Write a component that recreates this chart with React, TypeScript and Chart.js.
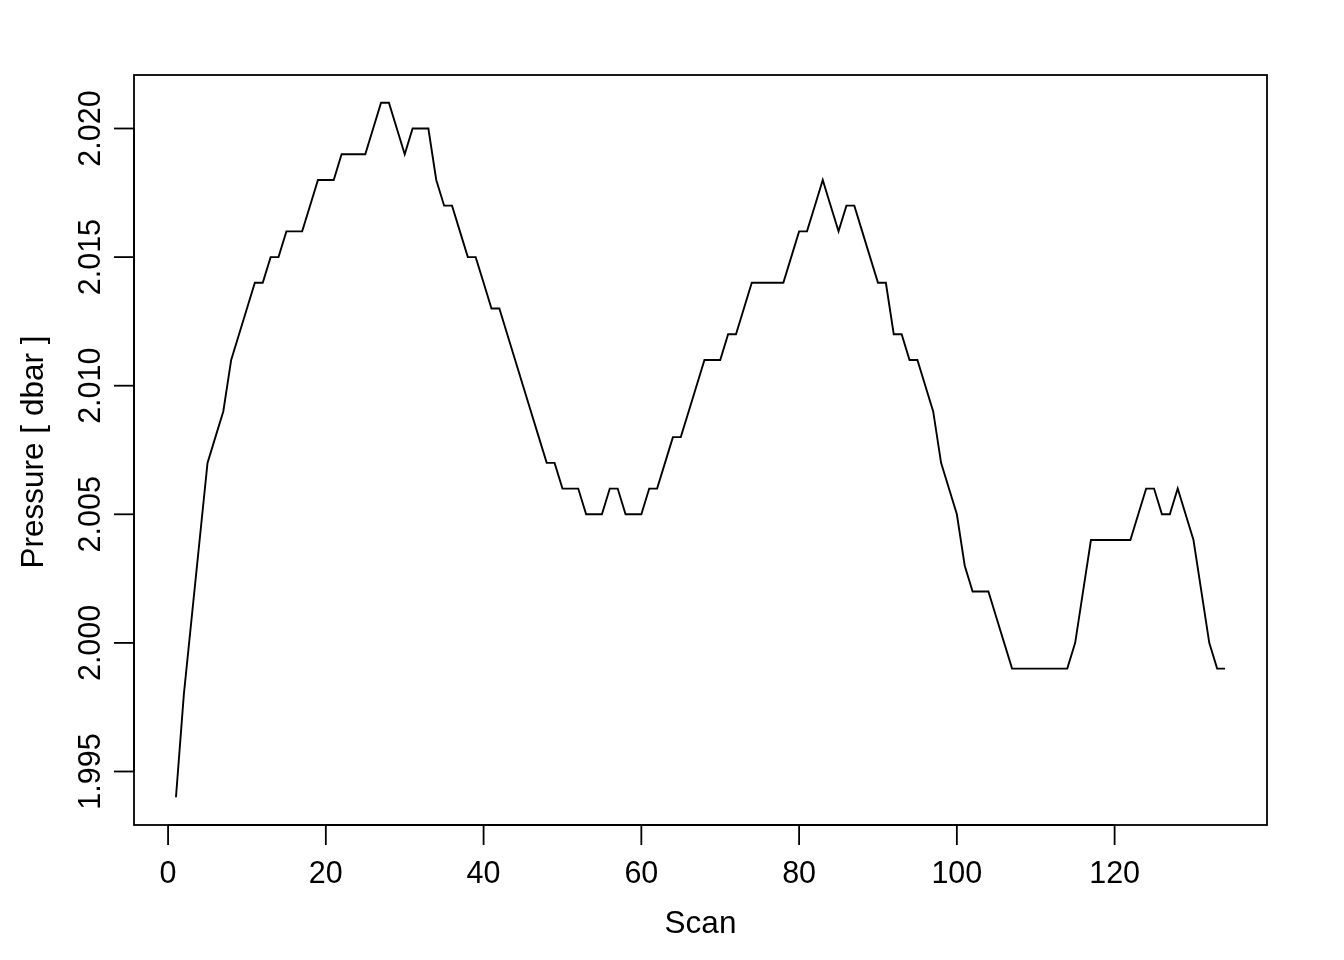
import React, { useEffect, useRef } from "react";
import { Chart, registerables } from "chart.js";

Chart.register(...registerables);

const PRESSURE: number[] = [
  1.994, 1.998, 2.001, 2.004, 2.007, 2.008, 2.009, 2.011, 2.012, 2.013,
  2.014, 2.014, 2.015, 2.015, 2.016, 2.016, 2.016, 2.017, 2.018, 2.018,
  2.018, 2.019, 2.019, 2.019, 2.019, 2.020, 2.021, 2.021, 2.020, 2.019,
  2.020, 2.020, 2.020, 2.018, 2.017, 2.017, 2.016, 2.015, 2.015, 2.014,
  2.013, 2.013, 2.012, 2.011, 2.010, 2.009, 2.008, 2.007, 2.007, 2.006,
  2.006, 2.006, 2.005, 2.005, 2.005, 2.006, 2.006, 2.005, 2.005, 2.005,
  2.006, 2.006, 2.007, 2.008, 2.008, 2.009, 2.010, 2.011, 2.011, 2.011,
  2.012, 2.012, 2.013, 2.014, 2.014, 2.014, 2.014, 2.014, 2.015, 2.016,
  2.016, 2.017, 2.018, 2.017, 2.016, 2.017, 2.017, 2.016, 2.015, 2.014,
  2.014, 2.012, 2.012, 2.011, 2.011, 2.010, 2.009, 2.007, 2.006, 2.005,
  2.003, 2.002, 2.002, 2.002, 2.001, 2.000, 1.999, 1.999, 1.999, 1.999,
  1.999, 1.999, 1.999, 1.999, 2.000, 2.002, 2.004, 2.004, 2.004, 2.004,
  2.004, 2.004, 2.005, 2.006, 2.006, 2.005, 2.005, 2.006, 2.005, 2.004,
  2.002, 2.000, 1.999, 1.999,
];
const SCANS: number[] = PRESSURE.map((_, i) => i + 1);

const X_TICKS: number[] = [0, 20, 40, 60, 80, 100, 120];
const Y_TICKS: number[] = [1.995, 2.0, 2.005, 2.01, 2.015, 2.02];
const Y_TICK_LABELS: string[] = ["1.995", "2.000", "2.005", "2.010", "2.015", "2.020"];
const X_LABEL = "Scan";
const Y_LABEL = "Pressure [ dbar ]";

const FONT = "30.5px 'Liberation Sans', Arial, sans-serif";
const TITLE_FONT = "31.5px 'Liberation Sans', Arial, sans-serif";

const rAxesPlugin = {
  id: "rAxes",
  afterDraw(chart: any) {
    const ctx: CanvasRenderingContext2D = chart.ctx;
    const area = chart.chartArea;
    const xs = chart.scales.x;
    const ys = chart.scales.y;
    ctx.save();
    ctx.strokeStyle = "#000";
    ctx.fillStyle = "#000";
    ctx.lineWidth = 1.8;
    // box
    ctx.strokeRect(area.left, area.top, area.right - area.left, area.bottom - area.top);
    ctx.font = FONT;
    // x axis
    const x0 = xs.getPixelForValue(X_TICKS[0]);
    const x1 = xs.getPixelForValue(X_TICKS[X_TICKS.length - 1]);
    ctx.beginPath();
    ctx.moveTo(x0, area.bottom);
    ctx.lineTo(x1, area.bottom);
    ctx.stroke();
    ctx.textAlign = "center";
    ctx.textBaseline = "alphabetic";
    X_TICKS.forEach((v) => {
      const px = xs.getPixelForValue(v);
      ctx.beginPath();
      ctx.moveTo(px, area.bottom);
      ctx.lineTo(px, area.bottom + 20);
      ctx.stroke();
      ctx.fillText(String(v), px, area.bottom + 58);
    });
    // y axis
    const y0 = ys.getPixelForValue(Y_TICKS[0]);
    const y1 = ys.getPixelForValue(Y_TICKS[Y_TICKS.length - 1]);
    ctx.beginPath();
    ctx.moveTo(area.left, y0);
    ctx.lineTo(area.left, y1);
    ctx.stroke();
    Y_TICKS.forEach((v, i) => {
      const py = ys.getPixelForValue(v);
      ctx.beginPath();
      ctx.moveTo(area.left, py);
      ctx.lineTo(area.left - 20, py);
      ctx.stroke();
      ctx.save();
      ctx.translate(area.left - 34, py);
      ctx.rotate(-Math.PI / 2);
      ctx.fillText(Y_TICK_LABELS[i], 0, 0);
      ctx.restore();
    });
    // axis titles
    ctx.font = TITLE_FONT;
    ctx.fillText(X_LABEL, (area.left + area.right) / 2, area.bottom + 108);
    ctx.save();
    ctx.translate(area.left - 91, (area.top + area.bottom) / 2 + 2);
    ctx.rotate(-Math.PI / 2);
    ctx.fillText(Y_LABEL, 0, 0);
    ctx.restore();
    ctx.restore();
  },
};

export default function App() {
  const ref = useRef<HTMLCanvasElement | null>(null);
  useEffect(() => {
    document.body.style.margin = "0";
    const canvas = ref.current;
    if (!canvas) return;
    const chart = new Chart(canvas, {
      type: "line",
      data: {
        datasets: [
          {
            data: SCANS.map((s, i) => ({ x: s, y: PRESSURE[i] })),
            borderColor: "#000",
            borderWidth: 1.9,
            pointRadius: 0,
            tension: 0,
            fill: false,
          },
        ],
      },
      options: {
        animation: false,
        responsive: false,
        devicePixelRatio: 1,
        layout: { padding: { left: 134, right: 77, top: 75, bottom: 135 } },
        plugins: { legend: { display: false }, tooltip: { enabled: false }, title: { display: false } },
        scales: {
          x: { type: "linear", min: -4.32, max: 139.32, display: false },
          y: { type: "linear", min: 1.99292, max: 2.02208, display: false },
        },
      },
      plugins: [rAxesPlugin],
    });
    return () => chart.destroy();
  }, []);
  return (
    <div style={{ position: "absolute", left: 0, top: 0, width: 1344, height: 960, background: "#fff" }}>
      <canvas ref={ref} width={1344} height={960} style={{ width: 1344, height: 960, display: "block" }} />
    </div>
  );
}
